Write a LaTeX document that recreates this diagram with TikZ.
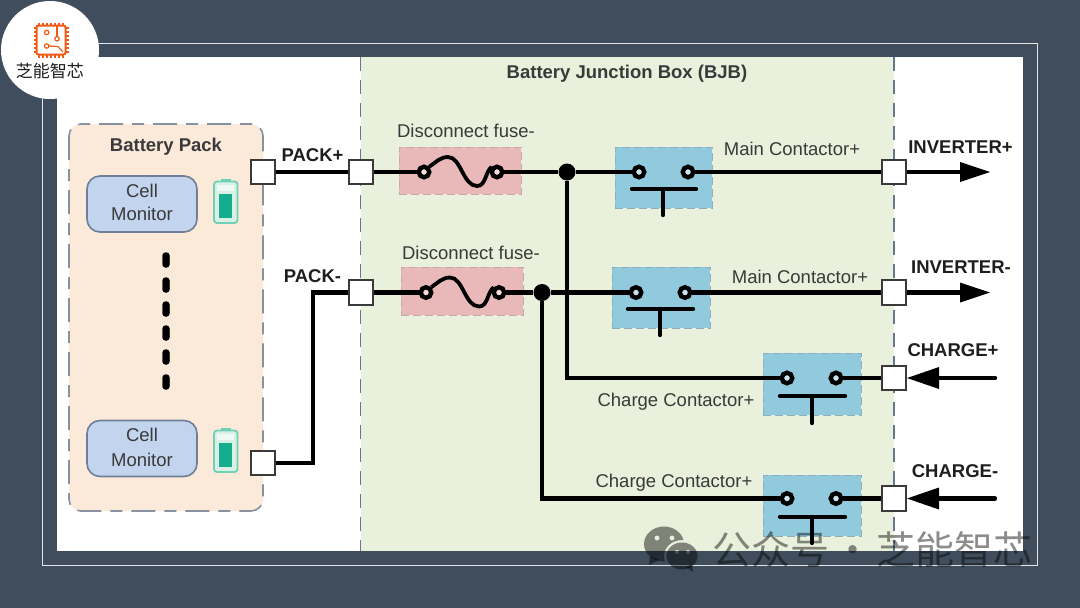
\documentclass[tikz,border=0pt]{standalone}
\usepackage{fontspec}
\setmainfont{Liberation Sans}
\newfontfamily\cjk{Noto Sans CJK SC}
\definecolor{slatebg}{HTML}{3F4D5C}
\definecolor{jbbgreen}{HTML}{E9F0DC}
\definecolor{packfill}{HTML}{FBE9DA}
\definecolor{dashgray}{HTML}{87919F}
\definecolor{dashblue}{HTML}{64788F}
\definecolor{monfill}{HTML}{C2D4EE}
\definecolor{monedge}{HTML}{6F7F97}
\definecolor{fusefill}{HTML}{E9B9B9}
\definecolor{contfill}{HTML}{92CADD}
\definecolor{teal}{HTML}{14AE8E}
\definecolor{tealedge}{HTML}{70D0B4}
\definecolor{tealpale}{HTML}{D8F0E6}
\definecolor{inkdark}{HTML}{1E1E1E}
\definecolor{inkmid}{HTML}{3A3A3A}
\definecolor{logoorange}{HTML}{F05A14}
\tikzset{
  wire/.style={draw=black,line width=4.4pt},
  port/.style={draw=inkmid,fill=white,line width=1.6pt,minimum size=24.5pt,inner sep=0pt},
  terminal/.style={circle,draw=black,line width=4.4pt,minimum size=10.5pt,inner sep=0pt},
  junction/.style={circle,fill=black,minimum size=17pt,inner sep=0pt},
  fusebox/.style={draw=fusefill!70!gray,dash pattern=on 8pt off 4pt,line width=1pt,fill=fusefill,inner sep=0pt},
  contbox/.style={draw=contfill!65!gray,dash pattern=on 8pt off 4pt,line width=1pt,fill=contfill,inner sep=0pt},
  monitor/.style={draw=monedge,fill=monfill,line width=1.6pt,rounded corners=13pt,minimum width=110pt,minimum height=56pt,inner sep=0pt},
  packdot/.style={draw=black,fill=black,line width=.1pt,rounded corners=3pt,minimum width=7pt,minimum height=15pt,inner sep=0pt},
  titletext/.style={font=\fontsize{18.5}{20}\selectfont\bfseries,text=inkmid,inner sep=0pt},
  lbl/.style={font=\fontsize{18.5}{20}\selectfont,text=inkmid,inner sep=0pt},
  termtext/.style={font=\fontsize{18.5}{20}\selectfont\bfseries,text=inkdark,inner sep=0pt},
  celltext/.style={font=\fontsize{18.5}{20}\selectfont,text=inkmid,inner sep=0pt},
  chipline/.style={draw=logoorange,line width=1.5pt},
}
\begin{document}
\begin{tikzpicture}[x=1pt,y=-1pt]
\useasboundingbox (0,0) rectangle (1080,608);
% page, frame and panel
\fill[slatebg] (0,0) rectangle (1080,608);
\draw[white!85!slatebg,line width=.9pt] (42,43) rectangle (1037,565);
\fill[white] (57,57) rectangle (1023,551);
% junction box area with its dashed borders
\fill[jbbgreen] (361,57) rectangle (894,551);
\draw[dashblue,line width=1.5pt,dash pattern=on 14pt off 9pt] (360.5,57) -- (360.5,551);
\draw[dashblue,line width=1.5pt,dash pattern=on 14pt off 9pt] (894,57) -- (894,551);
% battery pack
\draw[dashgray,fill=packfill,line width=1.6pt,rounded corners=12pt,dash pattern=on 24pt off 9pt on 12pt off 9pt] (69,124) rectangle (263,511);
\node[titletext] (packtitle) at (166,146.5) {Battery Pack};
\node[monitor] (mon1) at (142,204) {};
\node[celltext] (mon1a) at (142,191) {Cell};
\node[celltext] (mon1b) at (142,214) {Monitor};
\node[monitor] (mon2) at (142,448.5) {};
\node[celltext] (mon2a) at (142,435) {Cell};
\node[celltext] (mon2b) at (142,460) {Monitor};
% battery icons
\foreach \yy in {0,249}{
  \begin{scope}[shift={(0,\yy)}]
    \fill[tealedge] (221,179) rectangle (231,183);
    \draw[tealedge,fill=tealpale,line width=1.8pt,rounded corners=3pt] (214,181.5) rectangle (237.5,223);
    \fill[white!60!tealpale] (217,184.5) rectangle (234,190.5);
    \fill[teal] (219,194) rectangle (232,218);
  \end{scope}
}
% dots between the monitors
\foreach \yy/\nm in {260/a,285/b,309/c,333/d,357/e,382/f}{
  \node[packdot] (dot\nm) at (166,\yy) {};
}
% fuse and contactor boxes
\node[fusebox,minimum width=122pt,minimum height=47pt] (fb1) at (460,170.5) {};
\node[fusebox,minimum width=122pt,minimum height=48pt] (fb2) at (462,291) {};
\node[contbox,minimum width=97pt,minimum height=61pt] (cb1) at (663.5,177.5) {};
\node[contbox,minimum width=98pt,minimum height=61pt] (cb2) at (661,297.5) {};
\node[contbox,minimum width=98pt,minimum height=62pt] (cb3) at (812,384) {};
\node[contbox,minimum width=98pt,minimum height=61pt] (cb4) at (812,505.5) {};
% ports
\node[port] (pack1) at (263,172) {};
\node[port] (pack2) at (263,463) {};
\node[port] (in1) at (361,172) {};
\node[port] (in2) at (361,292.5) {};
\node[port] (inv1) at (894,172) {};
\node[port] (inv2) at (894,292.5) {};
\node[port] (chg1) at (894,378) {};
\node[port] (chg2) at (894,498.5) {};
% fuse terminals, contactor terminals, junctions
\node[terminal,fill=fusefill!50!white] (f1a) at (424,172) {};
\node[terminal,fill=fusefill!50!white] (f1b) at (497,172) {};
\node[terminal,fill=fusefill!50!white] (f2a) at (426,292.5) {};
\node[terminal,fill=fusefill!50!white] (f2b) at (499,292.5) {};
\node[terminal,fill=contfill!50!white] (c1a) at (639,172) {};
\node[terminal,fill=contfill!50!white] (c1b) at (688,172) {};
\node[terminal,fill=contfill!50!white] (c2a) at (636,292.5) {};
\node[terminal,fill=contfill!50!white] (c2b) at (685,292.5) {};
\node[terminal,fill=contfill!50!white] (c3a) at (787,378) {};
\node[terminal,fill=contfill!50!white] (c3b) at (836,378) {};
\node[terminal,fill=contfill!50!white] (c4a) at (787,498.5) {};
\node[terminal,fill=contfill!50!white] (c4b) at (836,498.5) {};
\node[junction] (j1) at (567,172) {};
\node[junction] (j2) at (542,292.5) {};
% free ends of the terminal arrows
\coordinate (invtip1) at (990,172);
\coordinate (invtip2) at (990,292.5);
\coordinate (chgtail1) at (995,378);
\coordinate (chgtail2) at (995,498.5);
% power wiring
\draw[wire] (pack1) -- (in1);
\draw[wire] (pack2.east) -- (313,463) -- (313,292.5) -- (in2.west);
\draw[wire] (in1) -- (f1a);
\draw[wire] (f1b) -- (j1);
\draw[wire] (j1) -- (c1a);
\draw[wire] (c1b) -- (inv1);
\draw[wire] (in2) -- (f2a);
\draw[wire] (f2b) -- (j2);
\draw[wire] (j2) -- (c2a);
\draw[wire] (c2b) -- (inv2);
\draw[wire] (j1) |- (c3a);
\draw[wire] (j2) |- (c4a);
\draw[wire] (c3b) -- (chg1);
\draw[wire] (c4b) -- (chg2);
% fuse elements
\draw[wire,line width=3.8pt] (f1a.north east) .. controls (435,163) and (440,157) .. (448,157) .. controls (461,157) and (463,186) .. (477,186) .. controls (486,186) and (485,172) .. (f1b.north west);
\draw[wire,line width=3.8pt] (f2a.north east) .. controls (437,283.5) and (442,277.5) .. (450,277.5) .. controls (463,277.5) and (465,306.5) .. (479,306.5) .. controls (488,306.5) and (487,292.5) .. (f2b.north west);
% contactor bars
\draw[wire,line cap=round] (632,189) -- (696,189) (663,189) -- (663,215);
\draw[wire,line cap=round] (628,309) -- (693,309) (660,309) -- (660,335);
\draw[wire,line cap=round] (780,396) -- (845,396) (812,396) -- (812,423);
\draw[wire,line cap=round] (780,517) -- (845,517) (812,517) -- (812,543);
% terminal arrows
\draw[wire] (inv1) -- (962,172);
\fill[black] (960,162) -- (invtip1) -- (960,182) -- cycle;
\draw[wire] (inv2) -- (962,292.5);
\fill[black] (960,282.5) -- (invtip2) -- (960,302.5) -- cycle;
\draw[wire,line cap=round] (chgtail1) -- (937,378);
\fill[black] (939,367) -- (chg1.east) -- (939,389) -- cycle;
\draw[wire,line cap=round] (chgtail2) -- (937,498.5);
\fill[black] (939,487.5) -- (chg2.east) -- (939,509.5) -- cycle;
% labels
\node[titletext] (jbbtitle) at (627,73.5) {Battery Junction Box (BJB)};
\node[lbl] (lf1) at (466,131) {Disconnect fuse-};
\node[lbl] (lf2) at (471,253) {Disconnect fuse-};
\node[lbl] (lm1) at (792,149) {Main Contactor+};
\node[lbl] (lm2) at (800,277) {Main Contactor+};
\node[lbl] (lc1) at (676,402) {Charge Contactor+};
\node[lbl] (lc2) at (674,483) {Charge Contactor+};
\node[termtext] (tp1) at (312.5,155) {PACK+};
\node[termtext] (tp2) at (312.5,276) {PACK-};
\node[termtext] (ti1) at (960.5,147) {INVERTER+};
\node[termtext] (ti2) at (961,267) {INVERTER-};
\node[termtext] (tc1) at (953,350) {CHARGE+};
\node[termtext] (tc2) at (955,471) {CHARGE-};
% logo disc
\fill[white] (50,50) circle (49);
\draw[chipline,line width=2pt,rounded corners=2pt] (36.5,25.5) rectangle (65.5,54.5);
\foreach \t in {0,1,...,6}{
  \draw[chipline,line width=1.1pt] (39+\t*4,22.5) -- (39+\t*4,25.5);
  \draw[chipline,line width=1.1pt] (39+\t*4,54.5) -- (39+\t*4,57.5);
  \draw[chipline,line width=1.1pt] (33.5,28+\t*4) -- (36.5,28+\t*4);
  \draw[chipline,line width=1.1pt] (65.5,28+\t*4) -- (68.5,28+\t*4);
}
\draw[chipline,line width=1.2pt] (46.7,32.5) circle (2.2);
\draw[chipline,line width=1.2pt] (57,38.8) circle (2.2);
\draw[chipline,line width=1.2pt] (46.7,46) circle (2.2);
\draw[chipline,line width=1.2pt] (57,36.6) -- (57,26);
\draw[chipline,line width=1.2pt] (48.9,46) -- (58,46.5) -- (63,52);
\node[font=\cjk\fontsize{17}{20}\selectfont,text=inkdark,inner sep=0pt] (logotext) at (50,71) {芝能智芯};
% watermark
\begin{scope}[fill opacity=.45,even odd rule]
  \begin{scope}
    \clip (630,510) rectangle (720,590) (682,556) ellipse (18 and 16);
    \fill[black] (664,544) ellipse (20 and 17.5) (657,538) circle (2.6) (672,538) circle (2.6);
    \fill[black] (650,556) -- (649,565) -- (659,560) -- cycle;
  \end{scope}
  \fill[black] (682,556) ellipse (15.5 and 13.5) (677,552) circle (2.2) (688,552) circle (2.2);
  \fill[black] (686,567) -- (693,572) -- (692,564) -- cycle;
\end{scope}
\node[font=\cjk\fontsize{39}{44}\selectfont,text=black,text opacity=.45,anchor=west,inner sep=0pt] (mark) at (712,550) {公众号\makebox[47pt]{·}芝能智芯};
\end{tikzpicture}
\end{document}
